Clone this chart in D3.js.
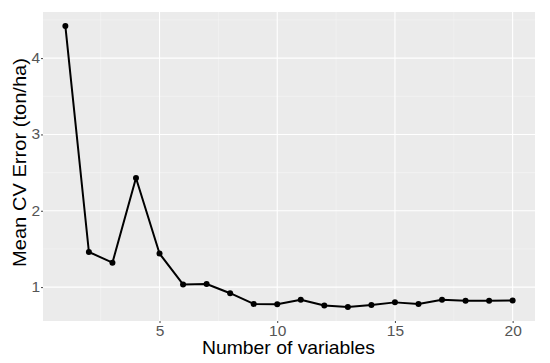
<!DOCTYPE html>
<html>
<head>
<meta charset="utf-8">
<script src="https://cdn.jsdelivr.net/npm/d3@7"></script>
<style>
  body { margin: 0; background: #fff; }
  svg text { font-family: "Liberation Sans", Arial, sans-serif; }
</style>
</head>
<body>
<svg id="chart" width="550" height="363"></svg>
<script>
// data
const nVars = d3.range(1, 21);
const cvError = [4.42, 1.46, 1.32, 2.43, 1.44, 1.035, 1.04, 0.92, 0.78, 0.775,
                 0.835, 0.76, 0.74, 0.765, 0.80, 0.78, 0.835, 0.82, 0.82, 0.825];
const xTicks = [5, 10, 15, 20];
const yTicks = [1, 2, 3, 4];

const svg = d3.select("#chart");
const margin = { left: 43, top: 12, right: 15, bottom: 42 };
const W = 550, H = 363;
const pw = W - margin.left - margin.right, ph = H - margin.top - margin.bottom;

// ggplot-like 5% expansion
const xe = d3.extent(nVars), ye = d3.extent(cvError);
const xpad = (xe[1] - xe[0]) * 0.05, ypad = (ye[1] - ye[0]) * 0.05;
const x = d3.scaleLinear().domain([xe[0] - xpad, xe[1] + xpad]).range([0, pw]);
const y = d3.scaleLinear().domain([ye[0] - ypad, ye[1] + ypad]).range([ph, 0]);

const g = svg.append("g").attr("transform", `translate(${margin.left},${margin.top})`);

g.append("rect").attr("width", pw).attr("height", ph).attr("fill", "#ebebeb");

// minor grid
const xMinor = [2.5, 7.5, 12.5, 17.5];
const yMinor = [1.5, 2.5, 3.5, 4.5].filter(v => v <= y.domain()[1]);
g.selectAll(".xminor").data(xMinor).enter().append("line")
  .attr("x1", d => x(d)).attr("x2", d => x(d)).attr("y1", 0).attr("y2", ph)
  .attr("stroke", "#f5f5f5").attr("stroke-width", 0.6);
g.selectAll(".yminor").data(yMinor).enter().append("line")
  .attr("y1", d => y(d)).attr("y2", d => y(d)).attr("x1", 0).attr("x2", pw)
  .attr("stroke", "#f5f5f5").attr("stroke-width", 0.6);

// major grid
g.selectAll(".xmajor").data(xTicks).enter().append("line")
  .attr("x1", d => x(d)).attr("x2", d => x(d)).attr("y1", 0).attr("y2", ph)
  .attr("stroke", "#fff").attr("stroke-width", 1.1);
g.selectAll(".ymajor").data(yTicks).enter().append("line")
  .attr("y1", d => y(d)).attr("y2", d => y(d)).attr("x1", 0).attr("x2", pw)
  .attr("stroke", "#fff").attr("stroke-width", 1.1);

// axes
const xAxis = g.append("g").attr("transform", `translate(0,${ph})`)
  .call(d3.axisBottom(x).tickValues(xTicks).tickFormat(d3.format("d")).tickSize(2).tickPadding(1.5));
const yAxis = g.append("g")
  .call(d3.axisLeft(y).tickValues(yTicks).tickFormat(d3.format("d")).tickSize(2).tickPadding(1));
[xAxis, yAxis].forEach(a => {
  a.select(".domain").remove();
  a.selectAll(".tick line").attr("stroke", "#444");
  a.selectAll(".tick text").attr("fill", "#555").style("font-size", "15.5px");
});
yAxis.selectAll(".tick text").attr("dy", "0.28em");

// line + points
const pts = nVars.map((v, i) => [v, cvError[i]]);
g.append("path").datum(pts)
  .attr("fill", "none").attr("stroke", "#000").attr("stroke-width", 2)
  .attr("stroke-linejoin", "round")
  .attr("d", d3.line().x(d => x(d[0])).y(d => y(d[1])));
g.selectAll(".pt").data(pts).enter().append("circle")
  .attr("cx", d => x(d[0])).attr("cy", d => y(d[1])).attr("r", 3)
  .attr("fill", "#000");

// axis titles
svg.append("text")
  .attr("x", 288.5).attr("y", 354)
  .attr("text-anchor", "middle").style("font-size", "18.5px").attr("fill", "#000")
  .attr("textLength", 173).attr("lengthAdjust", "spacingAndGlyphs")
  .text("Number of variables");
svg.append("text")
  .attr("transform", "translate(26,162.5) rotate(-90)")
  .attr("text-anchor", "middle").style("font-size", "18.5px").attr("fill", "#000")
  .attr("textLength", 209).attr("lengthAdjust", "spacingAndGlyphs")
  .text("Mean CV Error (ton/ha)");
</script>
</body>
</html>
